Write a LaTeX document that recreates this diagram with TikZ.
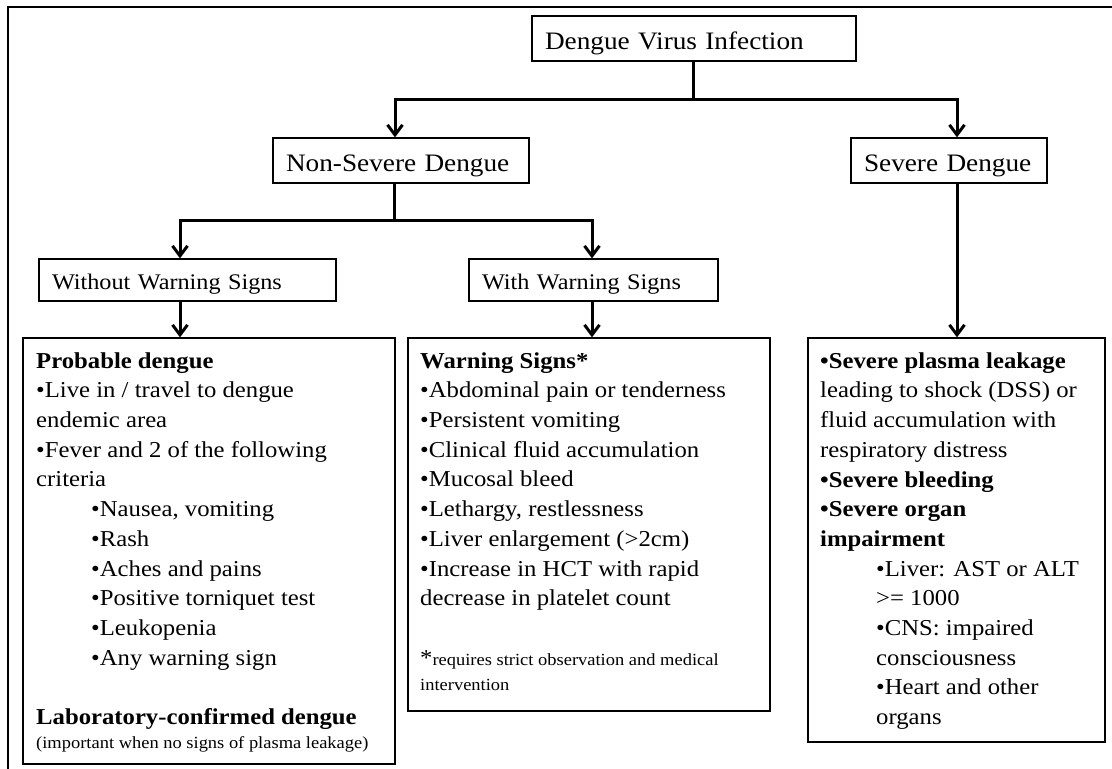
\documentclass[tikz,border=0pt]{standalone}
\usepackage{fontspec}
\setmainfont{Liberation Serif}[FakeStretch=1.086]
\usetikzlibrary{arrows.meta}
\begin{document}
\begin{tikzpicture}[x=1pt,y=-1pt,
  box/.style={draw=black, line width=1.3pt, inner sep=0pt},
  head/.style={box, inner xsep=13pt, inner ysep=0pt, align=left, text height=24pt, text depth=2pt, minimum height=45pt, font=\fontsize{25.1}{30}\selectfont},
  sub/.style={box, inner xsep=13pt, inner ysep=0pt, align=left, text height=21pt, text depth=1.6pt, minimum height=42pt, font=\fontsize{22.3}{27}\selectfont},
  body/.style={anchor=north west, inner sep=0pt, align=left, font=\fontsize{22.75}{29.7}\selectfont},
  small/.style={anchor=base west, inner sep=0pt, align=left, font=\fontsize{17}{25}\selectfont},
  conn/.style={line width=3pt, line join=miter},
  arr/.style={-{Straight Barb[length=10pt,width=15pt]}}
]
\useasboundingbox (0,0) rectangle (1112,769);
% outer frame (open at right and bottom)
\draw[line width=2.2pt] (8,769) -- (8,7) -- (1112,7);

% title level
\node[head, text width=298pt] (dvi) at (694,38.5) {\mbox{Dengue Virus Infection}};
\node[head, text width=230pt] (ns) at (401,160.5) {\mbox{Non-Severe Dengue}};
\node[head, text width=170pt] (sev) at (949,160.5) {\mbox{Severe Dengue}};

% second level
\node[sub, text width=271pt] (wo) at (187.5,280) {\mbox{Without Warning Signs}};
\node[sub, text width=223pt] (wi) at (593.5,280) {\mbox{With Warning Signs}};

% detail boxes
\node[box, minimum width=372pt, minimum height=426pt] (b1) at (209,551) {};
\node[box, minimum width=362pt, minimum height=373pt] (b2) at (589,524.5) {};
\node[box, minimum width=297pt, minimum height=404pt] (b3) at (956.5,540) {};

% connectors
\coordinate (j1) at (693,99);
\coordinate (j2) at (394,220);
\draw[conn] (dvi.south -| j1) -- (j1);
\draw[conn,arr] (j1) -| ([xshift=-6pt]ns.north);
\draw[conn,arr] (j1) -| ([xshift=8pt]sev.north);
\draw[conn] (ns.south -| j2) -- (j2);
\draw[conn,arr] (j2) -| ([xshift=-7.5pt]wo.north);
\draw[conn,arr] (j2) -| ([xshift=-1.5pt]wi.north);
\draw[conn,arr] ([xshift=-7.5pt]wo.south) -- ([xshift=-7.5pt]wo.south |- b1.north);
\draw[conn,arr] ([xshift=-1.5pt]wi.south) -- ([xshift=-1.5pt]wi.south |- b2.north);
\draw[conn,arr] ([xshift=8pt]sev.south) -- ([xshift=8pt]sev.south |- b3.north);

% box 1 text
\node[body] (t1) at (36,347.2) {\strut\textbf{Probable dengue}\\
•Live in / travel to dengue\\
endemic area\\
•Fever and 2 of the following\\
criteria\\
\hspace*{55pt}•Nausea, vomiting\\
\hspace*{55pt}•Rash\\
\hspace*{55pt}•Aches and pains\\
\hspace*{55pt}•Positive torniquet test\\
\hspace*{55pt}•Leukopenia\\
\hspace*{55pt}•Any warning sign};
\node[body, anchor=base west] (t1b) at (36,724) {\textbf{Laboratory-confirmed dengue}};
\node[small] (t1c) at (36,748) {(important when no signs of plasma leakage)};

% box 2 text
\node[body] (t2) at (420,347.2) {\strut\textbf{Warning Signs*}\\
•Abdominal pain or tenderness\\
•Persistent vomiting\\
•Clinical fluid accumulation\\
•Mucosal bleed\\
•Lethargy, restlessness\\
•Liver enlargement (>2cm)\\
•Increase in HCT with rapid\\
decrease in platelet count};
\node[small, anchor=north west] (t2b) at (420,647.5) {\strut{\fontsize{22.75}{25}\selectfont *}requires strict observation and medical\\
intervention};

% box 3 text
\node[body] (t3) at (820,347.2) {\strut\textbf{•Severe plasma leakage}\\
leading to shock (DSS) or\\
fluid accumulation with\\
respiratory distress\\
\textbf{•Severe bleeding}\\
\textbf{•Severe organ}\\
\textbf{impairment}\\
\hspace*{56pt}•Liver: AST or ALT\\
\hspace*{56pt}>= 1000\\
\hspace*{56pt}•CNS: impaired\\
\hspace*{56pt}consciousness\\
\hspace*{56pt}•Heart and other\\
\hspace*{56pt}organs};
\end{tikzpicture}
\end{document}
